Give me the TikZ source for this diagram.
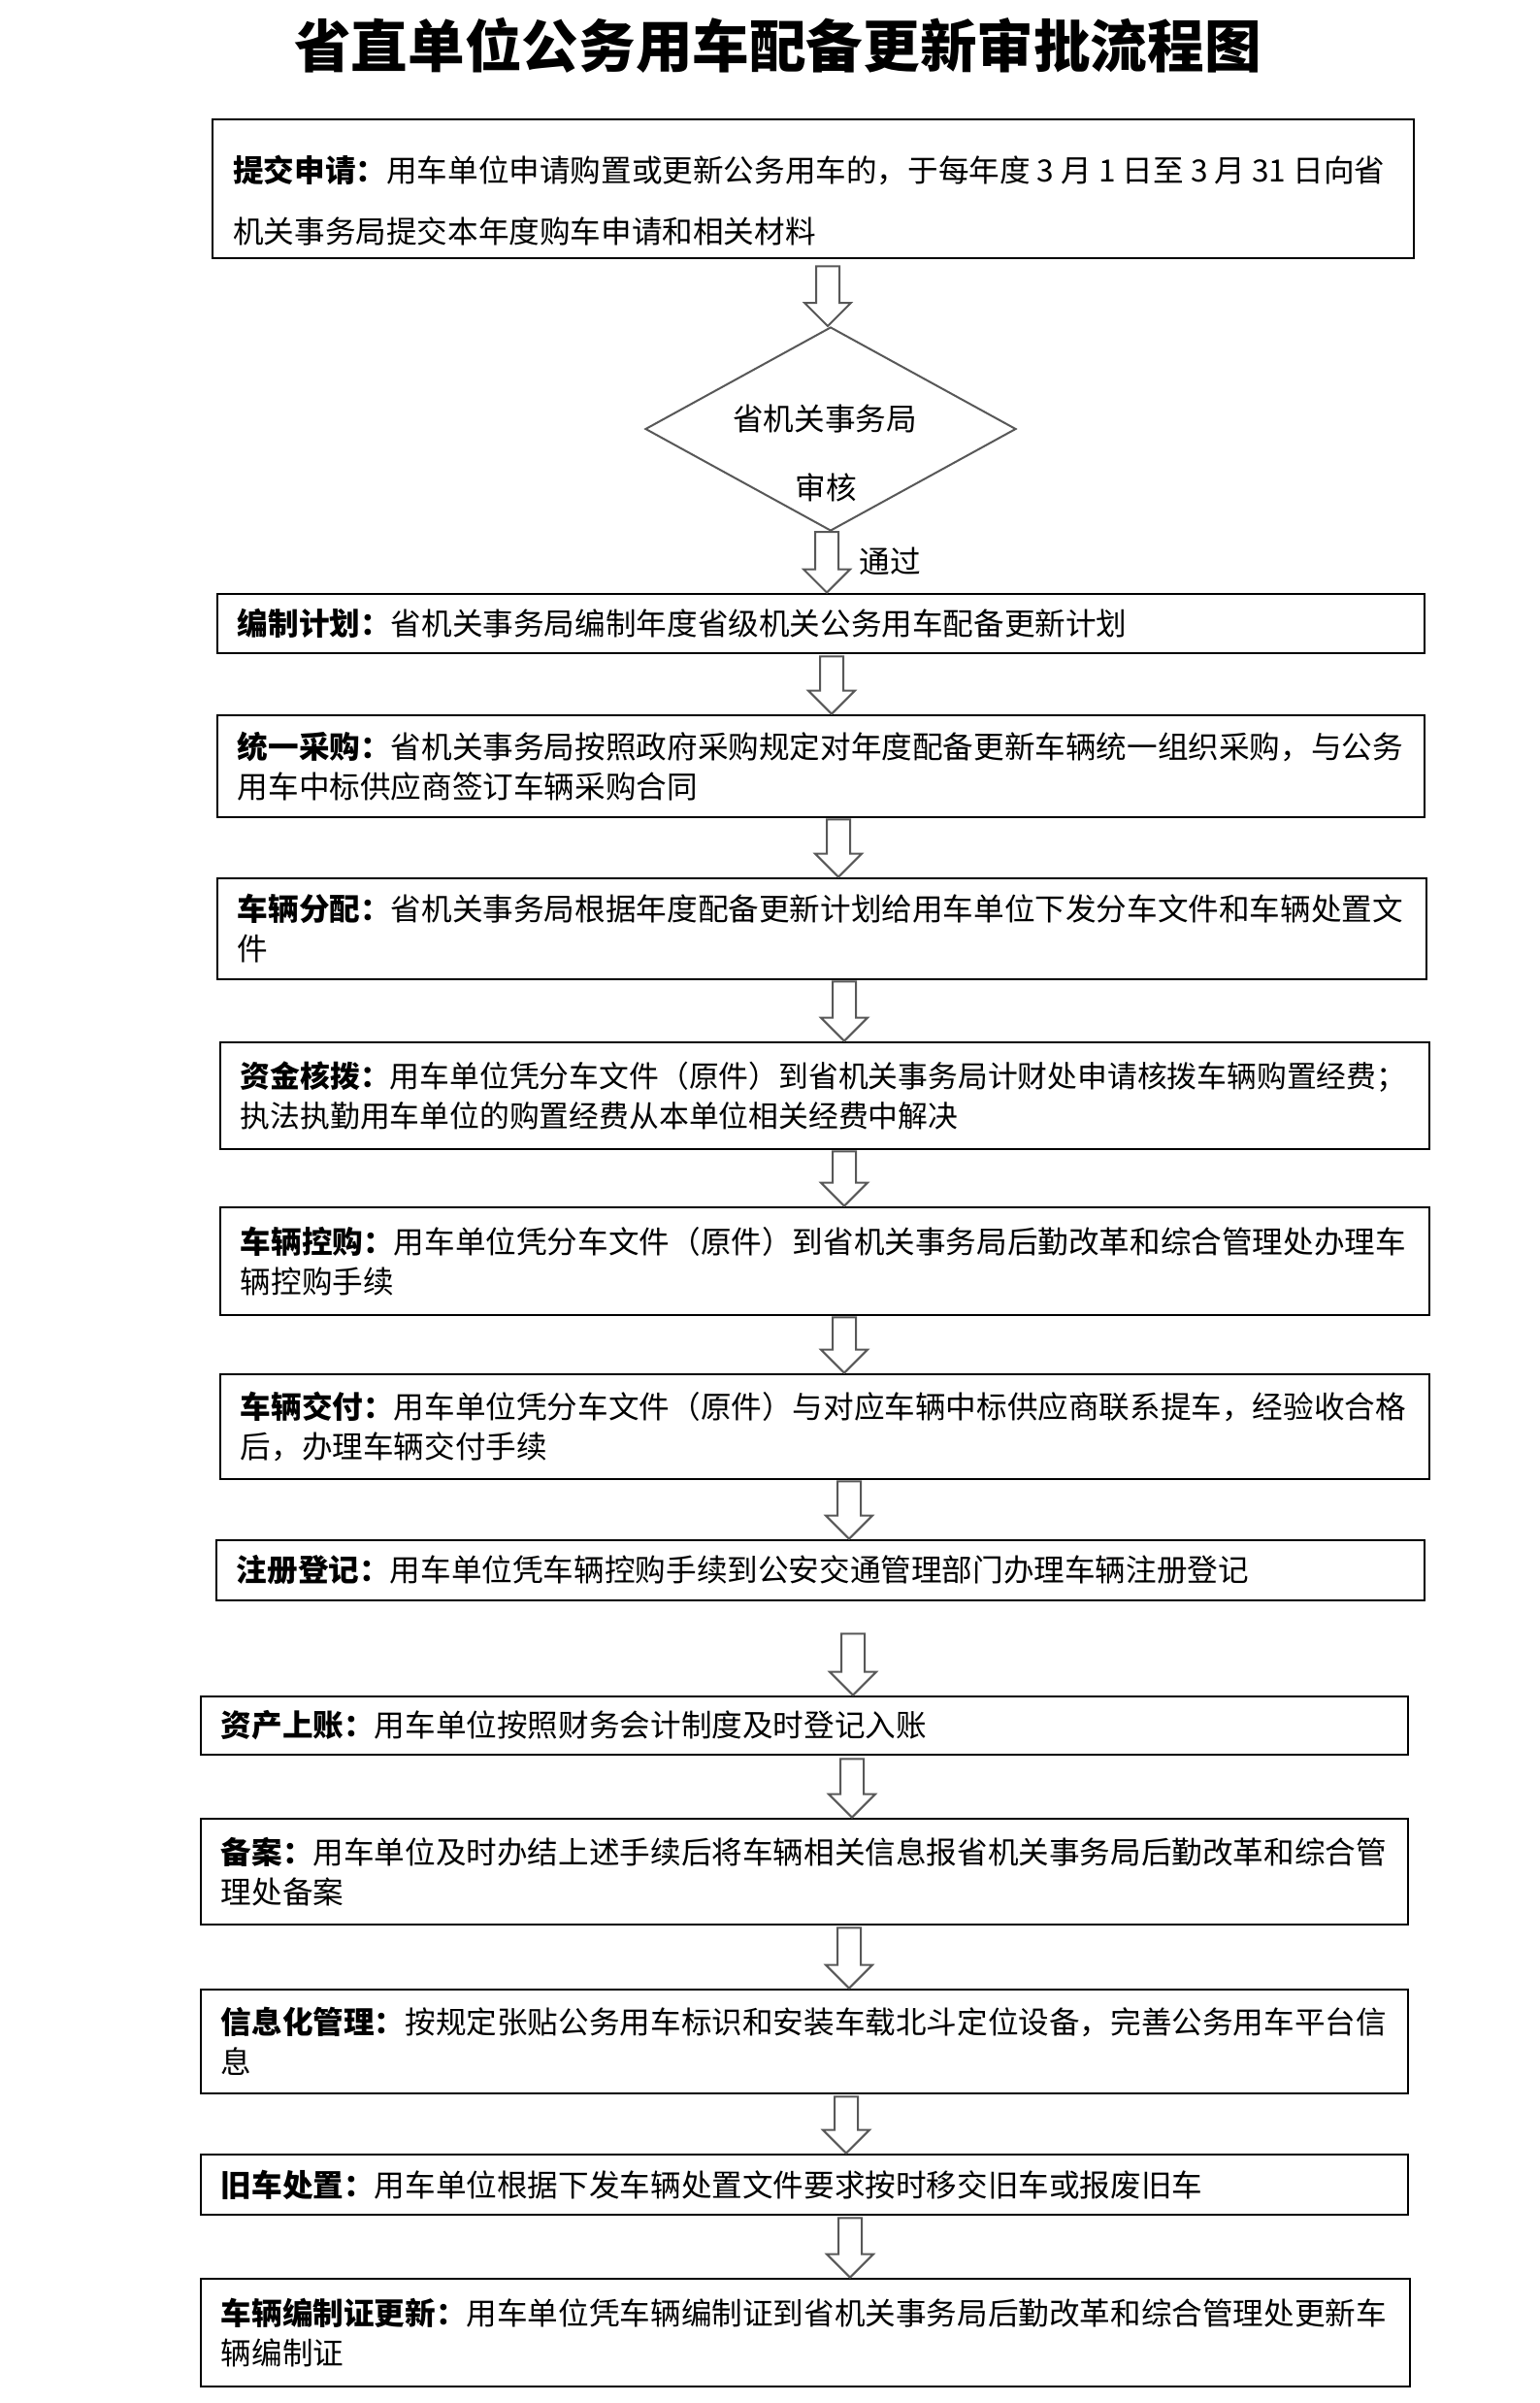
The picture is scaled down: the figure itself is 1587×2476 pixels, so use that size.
\documentclass[tikz,border=0pt]{standalone}
\usepackage{fontspec}
\newfontfamily\cjk{Noto Sans CJK SC}
\usetikzlibrary{shapes.geometric,calc}
\definecolor{arrgray}{HTML}{585858}
\newcommand{\barrow}[4]{%
  \draw[blockarrow] let \p1=(#1.south), \p2=(#2.north) in
    (#3bp-12bp,\y1-#4bp) -- (#3bp+12bp,\y1-#4bp) -- (#3bp+12bp,\y2+24bp) --
    (#3bp+24bp,\y2+24bp) -- (#3bp,\y2) -- (#3bp-24bp,\y2+24bp) --
    (#3bp-12bp,\y2+24bp) -- cycle;}
\begin{document}
\begin{tikzpicture}[x=1bp,y=-1bp,
  bodyfont/.style={font=\cjk\fontsize{31.6bp}{41bp}\selectfont},
  procbox/.style={draw=black, line width=2.8bp, rectangle, inner xsep=21bp, inner ysep=0pt,
    align=left, bodyfont},
  blockarrow/.style={draw=arrgray, fill=white, line width=2bp, line join=miter}]
\fill[white] (0,0) rectangle (1587,2476);
\useasboundingbox (0,0) rectangle (1587,2476);

\node[font=\cjk\bfseries\fontsize{58.6bp}{60bp}\selectfont] (title) at (801.5,47) {省直单位公务用车配备更新审批流程图};

% box 1
\node[procbox, minimum width=1238bp, minimum height=143bp] (b1) at (838,194.5) {};
\node[anchor=west, align=left, inner sep=0pt, font=\cjk\fontsize{31.6bp}{63bp}\selectfont] (b1t) at (240,206.5)
  {\textbf{提交申请：}用车单位申请购置或更新公务用车的，于每年度 3 月 1 日至 3 月 31 日向省\\机关事务局提交本年度购车申请和相关材料};

% decision
\node[diamond, draw=arrgray, line width=2bp, minimum width=382bp, minimum height=210bp, inner sep=0pt] (d) at (856,442) {};
\node[bodyfont, inner sep=0pt] (dt1) at (850,432) {省机关事务局};
\node[bodyfont, inner sep=0pt] (dt2) at (851,502) {审核};
\node[bodyfont, inner sep=0pt] (pass) at (917,578) {通过};

\node[procbox, minimum width=1244bp, minimum height=61bp, text width=1202bp] (b2) at (846,642.5)
  {\textbf{编制计划：}省机关事务局编制年度省级机关公务用车配备更新计划};
\node[procbox, minimum width=1244bp, minimum height=105bp, text width=1202bp] (b3) at (846,789.5)
  {\textbf{统一采购：}省机关事务局按照政府采购规定对年度配备更新车辆统一组织采购，与公务\\用车中标供应商签订车辆采购合同};
\node[procbox, minimum width=1246bp, minimum height=104bp, text width=1204bp] (b4) at (847,957)
  {\textbf{车辆分配：}省机关事务局根据年度配备更新计划给用车单位下发分车文件和车辆处置文\\件};
\node[procbox, minimum width=1246bp, minimum height=110bp, text width=1204bp,
  font=\cjk\fontsize{30.8bp}{41bp}\selectfont] (b5) at (850,1129)
  {\textbf{资金核拨：}用车单位凭分车文件（原件）到省机关事务局计财处申请核拨车辆购置经费；\\执法执勤用车单位的购置经费从本单位相关经费中解决};
\node[procbox, minimum width=1246bp, minimum height=111bp, text width=1204bp] (b6) at (850,1299.5)
  {\textbf{车辆控购：}用车单位凭分车文件（原件）到省机关事务局后勤改革和综合管理处办理车\\辆控购手续};
\node[procbox, minimum width=1246bp, minimum height=108bp, text width=1204bp] (b7) at (850,1470)
  {\textbf{车辆交付：}用车单位凭分车文件（原件）与对应车辆中标供应商联系提车，经验收合格\\后，办理车辆交付手续};
\node[procbox, minimum width=1245bp, minimum height=62bp, text width=1203bp] (b8) at (845.5,1618)
  {\textbf{注册登记：}用车单位凭车辆控购手续到公安交通管理部门办理车辆注册登记};
\node[procbox, minimum width=1244bp, minimum height=60bp, text width=1202bp] (b9) at (829,1778)
  {\textbf{资产上账：}用车单位按照财务会计制度及时登记入账};
\node[procbox, minimum width=1244bp, minimum height=109bp, text width=1202bp] (b10) at (829,1928.5)
  {\textbf{备案：}用车单位及时办结上述手续后将车辆相关信息报省机关事务局后勤改革和综合管\\理处备案};
\node[procbox, minimum width=1244bp, minimum height=107bp, text width=1202bp] (b11) at (829,2103.5)
  {\textbf{信息化管理：}按规定张贴公务用车标识和安装车载北斗定位设备，完善公务用车平台信\\息};
\node[procbox, minimum width=1244bp, minimum height=62bp, text width=1202bp] (b12) at (829,2251)
  {\textbf{旧车处置：}用车单位根据下发车辆处置文件要求按时移交旧车或报废旧车};
\node[procbox, minimum width=1246bp, minimum height=111bp, text width=1204bp] (b13) at (830,2403.5)
  {\textbf{车辆编制证更新：}用车单位凭车辆编制证到省机关事务局后勤改革和综合管理处更新车\\辆编制证};

\barrow{b1}{d}{853}{7}
\barrow{d}{b2}{852}{0}
\barrow{b2}{b3}{857}{2}
\barrow{b3}{b4}{864}{1}
\barrow{b4}{b5}{870}{1}
\barrow{b5}{b6}{870}{1}
\barrow{b6}{b7}{870}{1}
\barrow{b7}{b8}{875}{1}
\barrow{b8}{b9}{879}{33}
\barrow{b9}{b10}{878}{3}
\barrow{b10}{b11}{875}{2}
\barrow{b11}{b12}{872}{2}
\barrow{b12}{b13}{876}{2}
\end{tikzpicture}
\end{document}
